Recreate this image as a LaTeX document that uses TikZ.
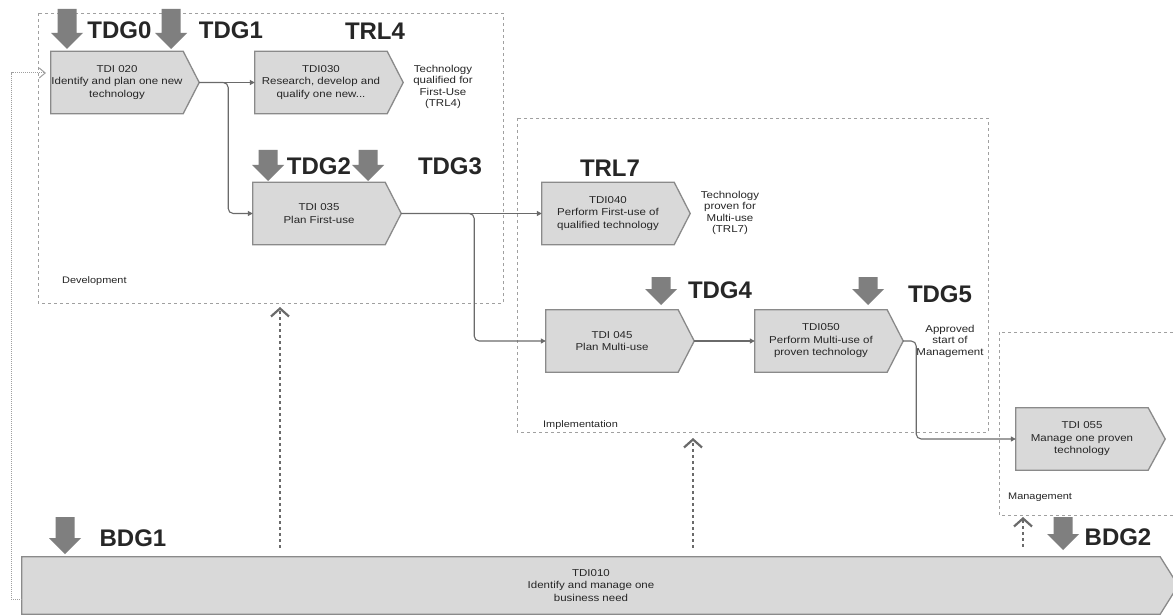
\documentclass[tikz,border=0pt]{standalone}
\usepackage{fontspec}
\setmainfont{Liberation Sans}
\newfontfamily\smallfont[FakeStretch=1.15]{Liberation Sans}
\usetikzlibrary{arrows.meta,backgrounds,calc}

\definecolor{boxfill}{HTML}{D9D9D9}
\definecolor{boxline}{HTML}{8A8A8A}
\definecolor{gatefill}{HTML}{7F7F7F}
\definecolor{textdark}{HTML}{262626}
\definecolor{conncol}{HTML}{6A6A6A}
\definecolor{regioncol}{HTML}{A0A0A0}
\definecolor{feedcol}{HTML}{6A6A6A}

\tikzset{
  tdibox/.style={minimum width=132pt, minimum height=62pt, inner sep=0pt,
    align=center, text=textdark, font=\smallfont\fontsize{10}{12.5}\selectfont},
  gatelabel/.style={inner sep=0pt, text=textdark, font=\bfseries\fontsize{24}{24}\selectfont},
  note/.style={inner sep=0pt, align=center, text=textdark, font=\smallfont\fontsize{10}{11.5}\selectfont},
  regionlabel/.style={inner sep=0pt, anchor=west, text=textdark, font=\smallfont\fontsize{9.5}{10.5}\selectfont},
  region/.style={draw=regioncol, line width=0.8pt, dash pattern=on 3pt off 3pt},
  conn/.style={draw=conncol, line width=1.1pt, -{Triangle[length=5pt,width=5pt]}},
  feed/.style={draw=feedcol, line width=2.6pt, dash pattern=on 2.6pt off 3.4pt,
    -{Straight Barb[length=8pt,width=18pt,line width=2.2pt]}},
  backline/.style={draw=gray!75, line width=1pt, dash pattern=on 1pt off 1pt,
    -{Straight Barb[length=6pt,width=10pt,line width=1pt]}},
}

% pointed activity box drawn behind a named node; #1 = depth of the point
\newcommand\tdishape[2][16]{%
  \begin{scope}[on background layer]
    \draw[fill=boxfill, draw=boxline, line width=1.3pt]
      (#2.north west) -- (#2.north east) -- ($(#2.east)+(#1,0)$) coordinate (#2-tip)
      -- (#2.south east) -- (#2.south west) -- cycle;
  \end{scope}}

% thick downward gate arrow: centre x, top y, tip y
\newcommand\gatearrow[3]{%
  \fill[gatefill] (#1-9.5,#2) -- (#1+9.5,#2) -- (#1+9.5,#3-16) -- (#1+16,#3-16)
    -- (#1,#3) -- (#1-16,#3-16) -- (#1-9.5,#3-16) -- cycle;}

\begin{document}
\begin{tikzpicture}[x=1pt,y=-1pt]
\useasboundingbox (0,0) rectangle (1173,615);
\clip (0,0) rectangle (1173,615);
\begin{scope}[on background layer]
  \fill[white] (0,0) rectangle (1173,615);
\end{scope}

% phase regions
\draw[region] (38,13) rectangle (503,303);
\draw[region] (517,118) rectangle (988,432);
\draw[region] (999,332) rectangle (1200,515);
\node[regionlabel] (devlabel) at (62,281) {Development};
\node[regionlabel] (implabel) at (543,425) {Implementation};
\node[regionlabel] (mgtlabel) at (1008,497) {Management};

% activities
\node[tdibox] (tdi020) at (117,82.5) {TDI 020\\Identify and plan one new\\technology};
\tdishape{tdi020}
\node[tdibox] (tdi030) at (321,82.5) {TDI030\\Research, develop and\\qualify one new...};
\tdishape{tdi030}
\node[tdibox] (tdi035) at (319,213.5) {TDI 035\\Plan First-use};
\tdishape{tdi035}
\node[tdibox] (tdi040) at (608,213.5) {TDI040\\Perform First-use of\\qualified technology};
\tdishape{tdi040}
\node[tdibox] (tdi045) at (612,341) {TDI 045\\Plan Multi-use};
\tdishape{tdi045}
\node[tdibox] (tdi050) at (821,341) {TDI050\\Perform Multi-use of\\proven technology};
\tdishape{tdi050}
\node[tdibox] (tdi055) at (1082,439) {TDI 055\\Manage one proven\\technology};
\tdishape[17]{tdi055}
\node[tdibox, minimum width=1138pt, minimum height=57pt] (tdi010) at (591,585.5)
  {TDI010\\Identify and manage one\\business need};
\tdishape[18]{tdi010}

% outcome notes
\node[note] (trl4note) at (443,87) {Technology\\qualified for\\First-Use\\(TRL4)};
\node[note] (trl7note) at (730,213) {Technology\\proven for\\Multi-use\\(TRL7)};
\node[note] (mgmtnote) at (950,341) {Approved\\start of\\Management};

% gates and readiness levels
\gatearrow{67}{9}{49}
\gatearrow{171}{9}{49}
\gatearrow{268}{150}{181}
\gatearrow{368}{150}{181}
\gatearrow{661}{277}{305}
\gatearrow{868}{277}{305}
\gatearrow{65}{517}{554}
\gatearrow{1063}{517}{550}
\node[gatelabel] (tdg0) at (119.5,30) {TDG0};
\node[gatelabel] (tdg1) at (231,30) {TDG1};
\node[gatelabel] (trl4) at (375,31) {TRL4};
\node[gatelabel] (tdg2) at (319,166) {TDG2};
\node[gatelabel] (tdg3) at (450,166) {TDG3};
\node[gatelabel] (trl7) at (610,168) {TRL7};
\node[gatelabel] (tdg4) at (720,290) {TDG4};
\node[gatelabel] (tdg5) at (940,294) {TDG5};
\node[gatelabel] (bdg1) at (133,538) {BDG1};
\node[gatelabel] (bdg2) at (1118,537) {BDG2};

% flow between activities
\draw[conn] (tdi020-tip) -- (tdi030.west);
\draw[conn, rounded corners=5pt] (tdi020-tip) -- ++(29,0) |- (tdi035.west);
\draw[conn] (tdi035-tip) -- (tdi040.west);
\draw[conn, rounded corners=5pt] (tdi035-tip) -- ++(73,0) |- (tdi045.west);
\draw[conn] (tdi045-tip) -- (tdi050.west);
\draw[conn, rounded corners=5pt] (tdi050-tip) -- ++(13,0) |- (tdi055.west);

% business need feeding the technology phases
\coordinate (feedA) at (280,307);
\coordinate (feedB) at (693,438);
\coordinate (feedC) at (1023,517);
\draw[feed] ($(tdi010.north -| feedA)+(0,-9)$) -- (feedA);
\draw[feed] ($(tdi010.north -| feedB)+(0,-9)$) -- (feedB);
\draw[feed] ($(tdi010.north -| feedC)+(0,-10)$) -- (feedC);

% return path into the first activity
\coordinate (backend) at (46,73);
\draw[backline] ($(tdi010.west)+(0,14)$) -- ++(-10,0) |- (backend);
\end{tikzpicture}
\end{document}
